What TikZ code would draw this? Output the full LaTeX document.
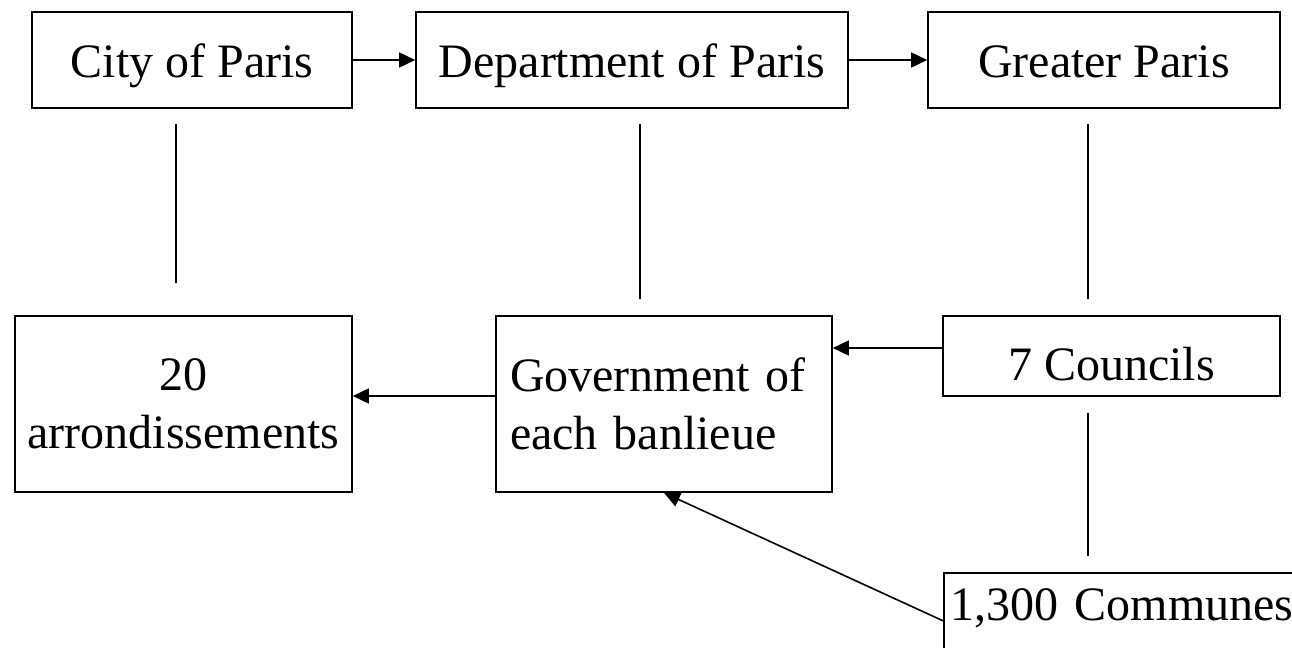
\documentclass[tikz,border=0pt]{standalone}
\usepackage{fontspec}
\setmainfont{Liberation Serif}
\usetikzlibrary{arrows.meta}
\tikzset{
box/.style={draw, line width=0.8pt, font=\fontsize{24}{28.8}\selectfont, inner sep=0pt},
link/.style={line width=0.8pt, -{Triangle[length=8pt,width=7.5pt]}}
}
\begin{document}
\begin{tikzpicture}[x=0.5pt, y=-0.5pt]
\useasboundingbox (0,0) rectangle (1292,648);
\node[box, minimum width=160pt, minimum height=48pt, text height=20pt, text depth=3pt] (city) at (192,60) {City of Paris};
\node[box, minimum width=216pt, minimum height=48pt, text height=20pt, text depth=3pt] (dept) at (632,60) {Department of Paris};
\node[box, minimum width=176pt, minimum height=48pt, text height=20pt, text depth=3pt] (greater) at (1104,60) {Greater Paris};
\node[box, minimum width=168.5pt, minimum height=88pt, align=center] (arrond) at (183.5,404) {20\\arrondissements};
\node[box, minimum width=168pt, minimum height=88pt, text width=154pt, inner xsep=7pt, align=left] (gov) at (664,404) {Government of\\each banlieue};
\node[box, minimum width=168.5pt, minimum height=40pt, text height=24pt, text depth=0pt] (councils) at (1111.5,356) {7 Councils};
\node[box, anchor=north west, text width=200pt, inner xsep=3.5pt, text height=24pt, text depth=45pt, align=left] (communes) at (943,572) {1,300 Communes};

\draw[link] (city) -- (dept);
\draw[link] (dept) -- (greater);
\draw[link] ([yshift=4pt]councils.west) -- ([yshift=4pt]councils.west -| gov.east);
\draw[link] ([yshift=4pt]gov.west) -- ([yshift=4pt]gov.west -| arrond.east);
\draw[link] (communes.base west) -- (gov.south);

\draw[line width=0.8pt, shorten <=7.5pt, shorten >=16pt] ([xshift=-8pt]city.south) -- ([xshift=-8pt]city.south |- arrond.north);
\draw[line width=0.8pt, shorten <=7.5pt, shorten >=8pt] ([xshift=4pt]dept.south) -- ([xshift=4pt]dept.south |- gov.north);
\draw[line width=0.8pt, shorten <=7.5pt, shorten >=8pt] ([xshift=-8pt]greater.south) -- ([xshift=-8pt]greater.south |- councils.north);
\draw[line width=0.8pt, shorten <=8pt, shorten >=8pt] ([xshift=-11.75pt]councils.south) -- ([xshift=-11.75pt]councils.south |- communes.north);
\end{tikzpicture}
\end{document}
